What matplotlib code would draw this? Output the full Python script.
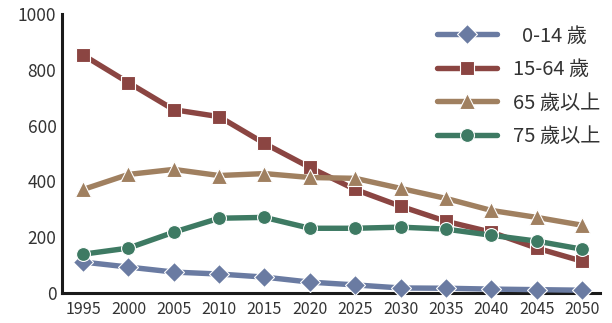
import matplotlib
matplotlib.use("Agg")
import matplotlib.pyplot as plt

plt.rcParams['font.family'] = ['Noto Sans CJK TC', 'DejaVu Sans']

years = [1995, 2000, 2005, 2010, 2015, 2020, 2025, 2030, 2035, 2040, 2045, 2050]
age_0_14 = [111, 93, 75, 68, 57, 39, 29, 18, 17, 14, 12, 10]
age_15_64 = [853, 754, 657, 632, 536, 450, 371, 311, 257, 218, 161, 114]
age_65 = [371, 425, 443, 421, 428, 414, 411, 375, 339, 296, 271, 243]
age_75 = [139, 161, 218, 268, 271, 232, 232, 236, 229, 207, 186, 157]
labels = ['  0-14 歲', '15-64 歲', '65 歲以上', '75 歲以上']
yticks = [0, 200, 400, 600, 800, 1000]

fig = plt.figure(figsize=(6.12, 3.23), dpi=100)
ax = fig.add_axes([62/612, 30/323, 538/612, 279/323])

series = [
    (age_0_14, '#6A7BA2', 'D', 10),
    (age_15_64, '#8B4542', 's', 10),
    (age_65, '#A08060', '^', 11),
    (age_75, '#3E7A63', 'o', 10),
]
for (vals, color, marker, ms), lab in zip(series, labels):
    ax.plot(years, vals, color=color, lw=3.9, marker=marker, ms=ms,
            markeredgecolor='white', markeredgewidth=0.8, label=lab,
            solid_capstyle='round', clip_on=False)

ax.set_xlim(1992.68, 2051.98)
ax.set_ylim(0, 1000)
ax.set_xticks(years)
ax.set_yticks(yticks)
ax.tick_params(length=0, labelsize=11.5, colors='#333333', pad=6)
ax.tick_params(axis='y', labelsize=12.5, pad=4)
for s in ['top', 'right']:
    ax.spines[s].set_visible(False)
for s in ['left', 'bottom']:
    ax.spines[s].set_linewidth(2.2)
    ax.spines[s].set_color('#1a1a1a')
ax.spines['bottom'].set_zorder(0)

leg = ax.legend(loc='upper right', bbox_to_anchor=(1.02, 0.995), frameon=False,
                fontsize=14.5, handlelength=3.0, labelspacing=0.62,
                handletextpad=0.8, borderaxespad=0.1)
for t in leg.get_texts():
    t.set_color('#333333')

fig.savefig('out.png', dpi=100)
